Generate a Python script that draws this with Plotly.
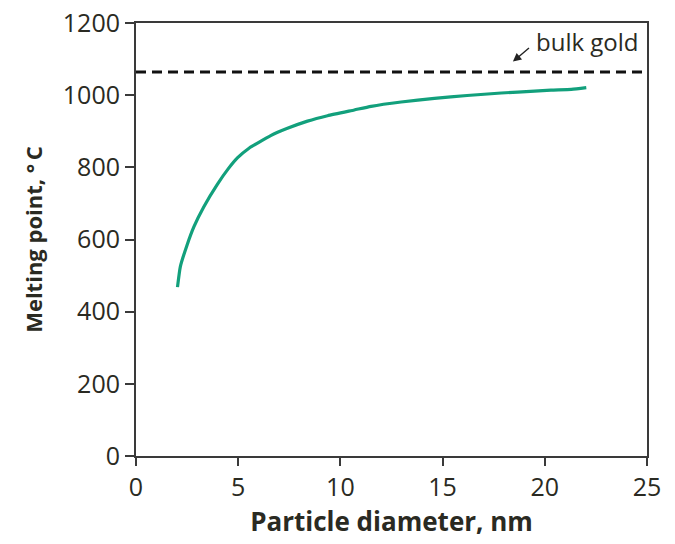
import plotly.graph_objects as go

# Measured curve: particle diameter (nm) vs melting point (°C)
diameter = [2.03, 2.17, 2.5, 2.83, 3.32, 3.98, 4.5, 4.96, 5.53,
            6.59, 7.41, 8.39, 9.37, 10.68, 11.5, 12.97, 14.6, 16.2, 17.87, 19.5,
            20.3, 21.3, 22.03]
melting = [468, 525, 585, 635, 691, 753, 795, 826, 853,
           888, 908, 928, 943, 959, 969, 981, 991, 999, 1006, 1011,
           1014, 1016, 1021]

bulk_gold = 1064
x_ticks = [0, 5, 10, 15, 20, 25]
y_ticks = [0, 200, 400, 600, 800, 1000, 1200]

txt = "#2a2a22"
axc = "#3a3a3a"
fam = "Open Sans"

fig = go.Figure()
fig.add_trace(go.Scatter(x=[0, 25], y=[bulk_gold, bulk_gold], mode="lines",
                         line=dict(color="#111111", width=3, dash="10px,6px"),
                         hoverinfo="skip", showlegend=False))
fig.add_trace(go.Scatter(x=diameter, y=melting, mode="lines",
                         line=dict(color="#12a07c", width=3.2, shape="spline", smoothing=0.5),
                         showlegend=False))

fig.add_annotation(x=18.44, y=1093, ax=19.3, ay=1134, xref="x", yref="y",
                   axref="x", ayref="y", text="", showarrow=True,
                   arrowhead=2, arrowsize=1.2, arrowwidth=1.4, arrowcolor="#222222")
fig.add_annotation(x=19.45, y=1150, xref="x", yref="y", text="bulk gold",
                   showarrow=False, xanchor="left", yanchor="middle",
                   font=dict(family=fam, size=24, color=txt))

fig.update_layout(
    width=675, height=544,
    margin=dict(l=136, r=28, t=23, b=88),
    plot_bgcolor="white", paper_bgcolor="white",
    font=dict(family=fam, size=22, color=txt),
)
fig.update_xaxes(range=[0, 25], tickvals=x_ticks, showgrid=False, zeroline=False,
                 showline=True, linecolor=axc, linewidth=2, mirror=True,
                 ticks="outside", ticklen=8, tickwidth=2, tickcolor=axc,
                 tickfont=dict(family=fam, size=25), automargin=False,
                 title=dict(text="<b>Particle diameter, nm</b>",
                            font=dict(family=fam, size=26), standoff=8))
fig.update_yaxes(range=[0, 1200], tickvals=y_ticks, showgrid=False, zeroline=False,
                 showline=True, linecolor=axc, linewidth=2, mirror=True,
                 ticks="outside", ticklen=9, tickwidth=2, tickcolor=axc,
                 tickfont=dict(family=fam, size=25), automargin=False,
                 title=dict(text="<b>Melting point, °\u2009C</b>",
                            font=dict(family=fam, size=22), standoff=14))

fig.write_html("out.html")
